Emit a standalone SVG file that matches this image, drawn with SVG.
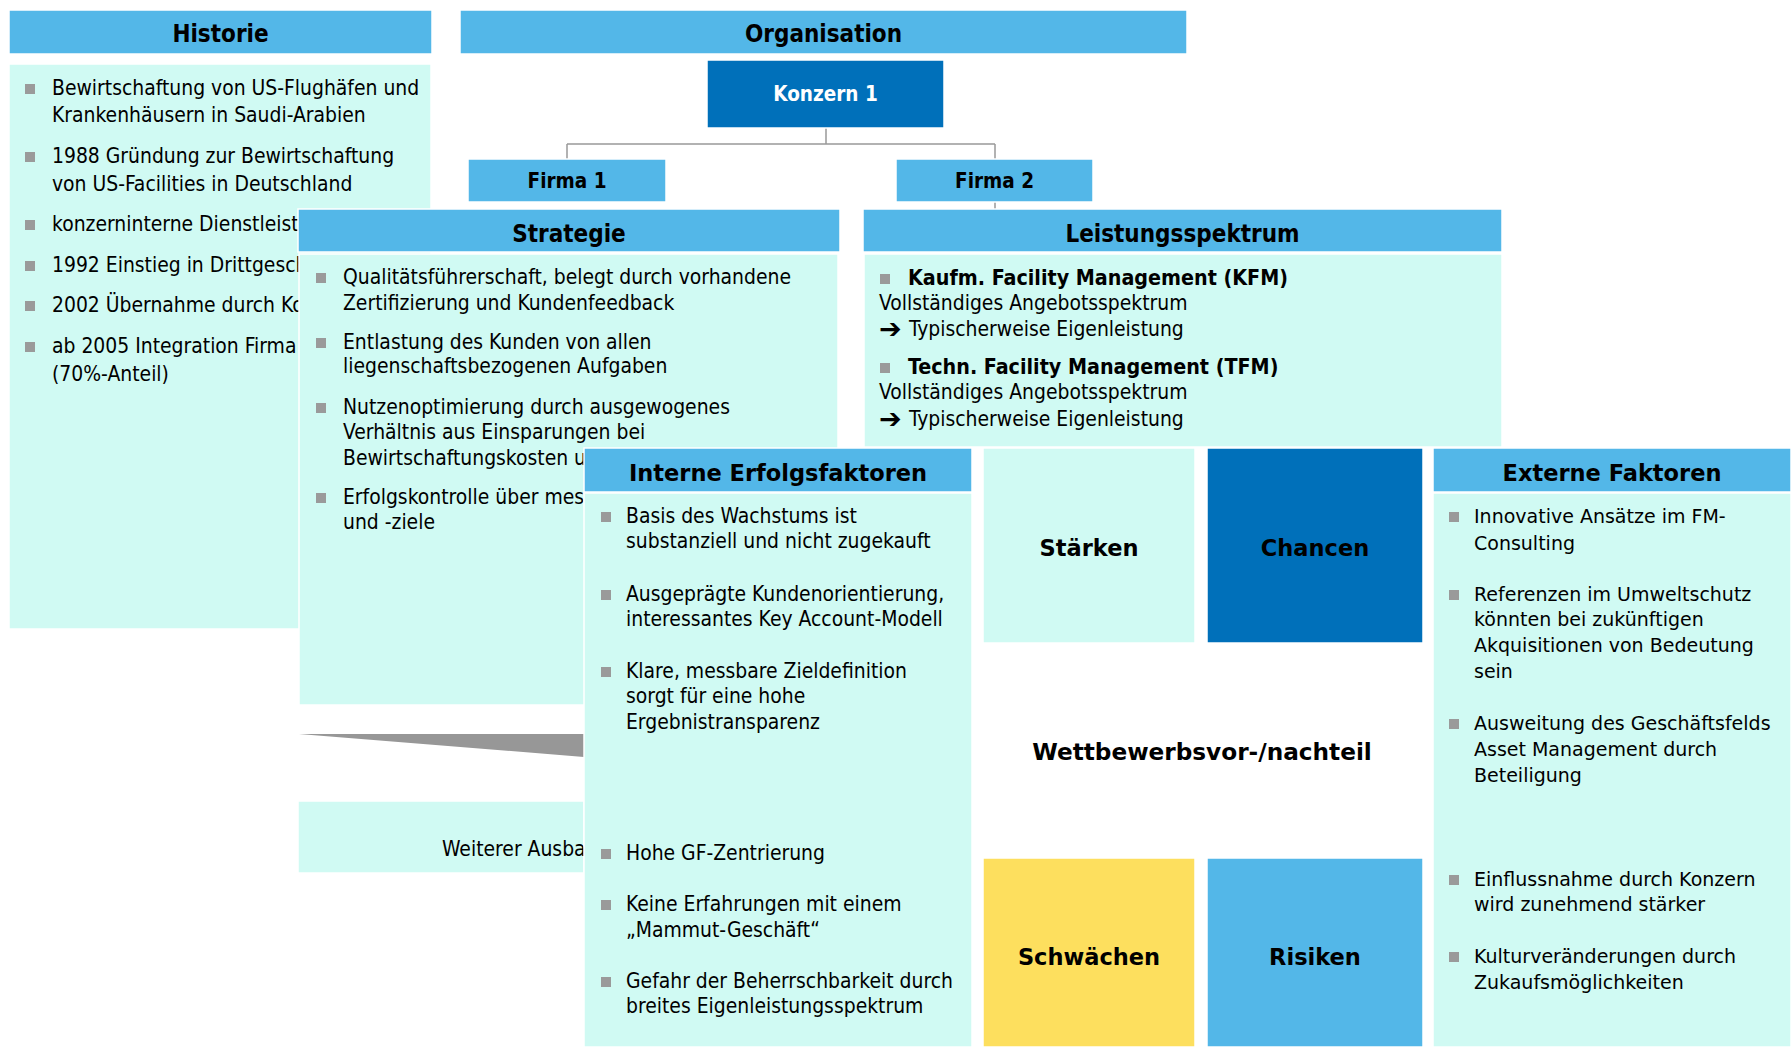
<svg xmlns="http://www.w3.org/2000/svg" width="1791" height="1047" viewBox="0 0 1791 1047">
  <style>
    .hdr{fill:#53B7E8;stroke:#fff;stroke-width:1.5}
    .body{fill:#D0FAF3;stroke:#fff;stroke-width:1.5}
    .dark{fill:#0070BA;stroke:#fff;stroke-width:1.5}
    .yel{fill:#FDDF5E;stroke:#fff;stroke-width:1.5}
    .t{font-family:"DejaVu Sans Condensed","DejaVu Sans",sans-serif;font-stretch:condensed;font-size:20.9px;fill:#000}
    .tb{font-family:"DejaVu Sans Condensed","DejaVu Sans",sans-serif;font-stretch:condensed;font-size:21.3px;font-weight:bold;fill:#000}
    .ttl{font-family:"DejaVu Sans Condensed","DejaVu Sans",sans-serif;font-stretch:condensed;font-size:24px;font-weight:bold;fill:#000;text-anchor:middle}
    .box{font-family:"DejaVu Sans Condensed","DejaVu Sans",sans-serif;font-stretch:condensed;font-size:20.5px;font-weight:bold;text-anchor:middle}
    .v{font-family:"DejaVu Sans","Verdana",sans-serif;font-size:19px;fill:#000}
    .vb{font-family:"DejaVu Sans","Verdana",sans-serif;font-size:22.5px;font-weight:bold;fill:#000;text-anchor:middle}
    .arw{font-family:"DejaVu Sans",sans-serif;font-size:27px;font-weight:bold;fill:#000}
    .bul{fill:#9a9a9a}
    .conn{fill:none;stroke:#999;stroke-width:1.5}
  </style>
  <defs>
    <rect id="b" class="bul" width="10" height="10"/>
  </defs>
  <rect width="1791" height="1047" fill="#fff"/>

  <!-- History panel -->
  <g id="historie">
    <rect class="hdr" x="9" y="10" width="423" height="44"/>
    <text class="ttl" x="220.5" y="42">Historie</text>
    <rect class="body" x="9" y="64" width="422" height="565"/>
    <use href="#b" x="25" y="84"/>
    <text class="t" x="52" y="95">Bewirtschaftung von US-Flughäfen und</text>
    <text class="t" x="52" y="122">Krankenhäusern in Saudi-Arabien</text>
    <use href="#b" x="25" y="152"/>
    <text class="t" x="52" y="163">1988 Gründung zur Bewirtschaftung</text>
    <text class="t" x="52" y="191">von US-Facilities in Deutschland</text>
    <use href="#b" x="25" y="220"/>
    <text class="t" x="52" y="231">konzerninterne Dienstleistu</text>
    <use href="#b" x="25" y="261"/>
    <text class="t" x="52" y="272">1992 Einstieg in Drittgesch</text>
    <use href="#b" x="25" y="301"/>
    <text class="t" x="52" y="312">2002 Übernahme durch Ko</text>
    <use href="#b" x="25" y="342"/>
    <text class="t" x="52" y="353">ab 2005 Integration Firma</text>
    <text class="t" x="52" y="381">(70%-Anteil)</text>
  </g>

  <!-- Organisation chart -->
  <g id="organisation">
    <rect class="hdr" x="460" y="10" width="727" height="44"/>
    <text class="ttl" x="823.5" y="42">Organisation</text>
  </g>
  <g id="connectors">
    <path class="conn" d="M826,128 V144 M567,144 H995 M567,144 V159 M995,144 V159 M995,202 V209"/>
  </g>
  <g id="konzern1">
    <rect class="dark" x="707" y="60" width="237" height="68"/>
    <text class="box" x="825.5" y="101" fill="#fff">Konzern 1</text>
  </g>
  <g id="firma1">
    <rect class="hdr" x="468" y="159" width="198" height="43"/>
    <text class="box" x="567" y="188" fill="#000">Firma 1</text>
  </g>
  <g id="firma2">
    <rect class="hdr" x="896" y="159" width="197" height="43"/>
    <text class="box" x="994.5" y="188" fill="#000">Firma 2</text>
  </g>

  <!-- Strategy panel -->
  <g id="strategie">
    <rect class="hdr" x="298" y="209" width="542" height="43"/>
    <text class="ttl" x="569" y="242">Strategie</text>
    <rect class="body" x="299" y="254" width="539" height="451"/>
    <use href="#b" x="316" y="273"/>
    <text class="t" x="343" y="284">Qualitätsführerschaft, belegt durch vorhandene</text>
    <text class="t" x="343" y="310">Zertifizierung und Kundenfeedback</text>
    <use href="#b" x="316" y="338"/>
    <text class="t" x="343" y="349">Entlastung des Kunden von allen</text>
    <text class="t" x="343" y="373">liegenschaftsbezogenen Aufgaben</text>
    <use href="#b" x="316" y="403"/>
    <text class="t" x="343" y="414">Nutzenoptimierung durch ausgewogenes</text>
    <text class="t" x="343" y="439">Verhältnis aus Einsparungen bei</text>
    <text class="t" x="343" y="465">Bewirtschaftungskosten u</text>
    <use href="#b" x="316" y="493"/>
    <text class="t" x="343" y="504">Erfolgskontrolle über mes</text>
    <text class="t" x="343" y="529">und -ziele</text>
  </g>

  <g id="ausbau">
    <polygon points="299,734 584,734 584,757" fill="#979797"/>
    <rect class="body" x="298" y="801" width="286" height="72"/>
    <text class="t" x="442" y="856">Weiterer Ausba</text>
  </g>

  <!-- Service spectrum panel -->
  <g id="leistungsspektrum">
    <rect class="hdr" x="863" y="209" width="639" height="43"/>
    <text class="ttl" x="1182.5" y="242">Leistungsspektrum</text>
    <rect class="body" x="864" y="254" width="638" height="193"/>
    <use href="#b" x="880" y="274"/>
    <text class="tb" x="908" y="285">Kaufm. Facility Management (KFM)</text>
    <text class="t" x="879" y="310">Vollständiges Angebotsspektrum</text>
    <text class="arw" x="879" y="338">➔</text>
    <text class="t" x="909" y="336">Typischerweise Eigenleistung</text>
    <use href="#b" x="880" y="363"/>
    <text class="tb" x="908" y="374">Techn. Facility Management (TFM)</text>
    <text class="t" x="879" y="399">Vollständiges Angebotsspektrum</text>
    <text class="arw" x="879" y="428">➔</text>
    <text class="t" x="909" y="426">Typischerweise Eigenleistung</text>
  </g>

  <!-- Internal success factors -->
  <g id="interne">
    <rect class="hdr" x="584" y="448" width="388" height="44"/>
    <text class="vb" x="778" y="481">Interne Erfolgsfaktoren</text>
    <rect class="body" x="584" y="493" width="388" height="554"/>
    <use href="#b" x="601" y="512"/>
    <text class="t" x="626" y="523">Basis des Wachstums ist</text>
    <text class="t" x="626" y="548">substanziell und nicht zugekauft</text>
    <use href="#b" x="601" y="590"/>
    <text class="t" x="626" y="601">Ausgeprägte Kundenorientierung,</text>
    <text class="t" x="626" y="626">interessantes Key Account-Modell</text>
    <use href="#b" x="601" y="667"/>
    <text class="t" x="626" y="678">Klare, messbare Zieldefinition</text>
    <text class="t" x="626" y="703">sorgt für eine hohe</text>
    <text class="t" x="626" y="729">Ergebnistransparenz</text>
    <use href="#b" x="601" y="849"/>
    <text class="t" x="626" y="860">Hohe GF-Zentrierung</text>
    <use href="#b" x="601" y="900"/>
    <text class="t" x="626" y="911">Keine Erfahrungen mit einem</text>
    <text class="t" x="626" y="937">„Mammut-Geschäft“</text>
    <use href="#b" x="601" y="977"/>
    <text class="t" x="626" y="988">Gefahr der Beherrschbarkeit durch</text>
    <text class="t" x="626" y="1013">breites Eigenleistungsspektrum</text>
  </g>

  <!-- SWOT quadrants -->
  <g id="staerken">
    <rect class="body" x="983" y="448" width="212" height="195"/>
    <text class="vb" x="1089" y="556">Stärken</text>
  </g>
  <g id="chancen">
    <rect class="dark" x="1207" y="448" width="216" height="195"/>
    <text class="vb" x="1315" y="556">Chancen</text>
  </g>
  <g id="wettbewerb">
    <text class="vb" x="1202" y="760" style="font-size:23.2px">Wettbewerbsvor-/nachteil</text>
  </g>
  <g id="schwaechen">
    <rect class="yel" x="983" y="858" width="212" height="189"/>
    <text class="vb" x="1089" y="965">Schwächen</text>
  </g>
  <g id="risiken">
    <rect class="hdr" x="1207" y="858" width="216" height="189"/>
    <text class="vb" x="1315" y="965">Risiken</text>
  </g>

  <!-- External factors -->
  <g id="externe">
    <rect class="hdr" x="1433" y="448" width="358" height="44"/>
    <text class="vb" x="1612" y="481">Externe Faktoren</text>
    <rect class="body" x="1433" y="493" width="358" height="554"/>
    <use href="#b" x="1449" y="512"/>
    <text class="v" x="1474" y="523">Innovative Ansätze im FM-</text>
    <text class="v" x="1474" y="550">Consulting</text>
    <use href="#b" x="1449" y="590"/>
    <text class="v" x="1474" y="601">Referenzen im Umweltschutz</text>
    <text class="v" x="1474" y="626">könnten bei zukünftigen</text>
    <text class="v" x="1474" y="652">Akquisitionen von Bedeutung</text>
    <text class="v" x="1474" y="678">sein</text>
    <use href="#b" x="1449" y="719"/>
    <text class="v" x="1474" y="730">Ausweitung des Geschäftsfelds</text>
    <text class="v" x="1474" y="756">Asset Management durch</text>
    <text class="v" x="1474" y="782">Beteiligung</text>
    <use href="#b" x="1449" y="875"/>
    <text class="v" x="1474" y="886">Einflussnahme durch Konzern</text>
    <text class="v" x="1474" y="911">wird zunehmend stärker</text>
    <use href="#b" x="1449" y="952"/>
    <text class="v" x="1474" y="963">Kulturveränderungen durch</text>
    <text class="v" x="1474" y="989">Zukaufsmöglichkeiten</text>
  </g>
</svg>
